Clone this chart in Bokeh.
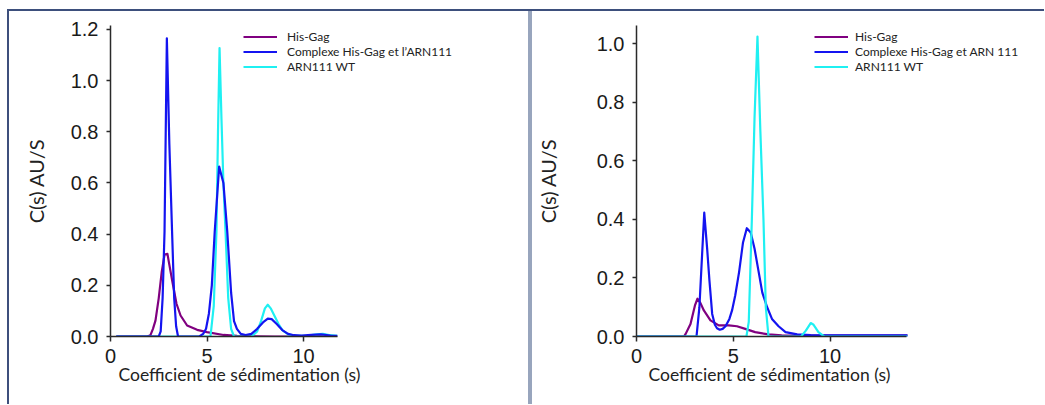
from bokeh.plotting import figure
from bokeh.layouts import row, column
from bokeh.models import Div, Legend, LegendItem, FixedTicker, Title
from bokeh.embed import file_html
from bokeh.resources import INLINE

# ---------------- data ----------------
series_names_left = ["His-Gag", "Complexe His-Gag et l\u2019ARN111", "ARN111 WT"]
series_names_right = ["His-Gag", "Complexe His-Gag et ARN 111", "ARN111 WT"]
colors = ["#800080", "#1414f0", "#1ff0f2"]

x_label = "Coefficient de s\u00e9dimentation (s)"
y_label = "C(s) AU/S"

x_ticks = [0, 5, 10]
y_ticks_left = [0.0, 0.2, 0.4, 0.6, 0.8, 1.0, 1.2]
y_ticks_right = [0.0, 0.2, 0.4, 0.6, 0.8, 1.0]
y_tick_labels_left = ["0.0", "0.2", "0.4", "0.6", "0.8", "1.0", "1.2"]
y_tick_labels_right = ["0.0", "0.2", "0.4", "0.6", "0.8", "1.0"]

# axis extents (data units)
x_axis_end_left = 11.76
x_axis_end_right = 13.95

# Left panel
hisgag_L_s = [0.3, 1.9, 2.07, 2.2, 2.33, 2.5, 2.65, 2.8, 2.95, 3.05, 3.2, 3.42, 3.63, 3.97, 4.49, 5.0, 5.86, 6.56, 7.5, 8.5, 11.75]
hisgag_L_c = [0.0, 0.0, 0.005, 0.03, 0.062, 0.15, 0.25, 0.32, 0.323, 0.28, 0.217, 0.128, 0.082, 0.043, 0.026, 0.017, 0.006, 0.003, 0.001, 0.0, 0.0]

complexe_L_s = [0.3, 2.5, 2.6, 2.7, 2.8, 2.92, 3.05, 3.19, 3.3, 3.4, 3.5, 4.6, 4.8, 4.95, 5.1, 5.25, 5.4, 5.63, 5.85, 6.05, 6.25, 6.4, 6.55, 6.75, 7.0, 7.3, 7.6, 7.9, 8.15, 8.35, 8.6, 8.9, 9.2, 9.5, 9.9, 10.4, 10.9, 11.4, 11.75]
complexe_L_c = [0.0, 0.0, 0.02, 0.15, 0.41, 1.165, 0.75, 0.41, 0.15, 0.04, 0.0, 0.0, 0.01, 0.03, 0.09, 0.2, 0.41, 0.664, 0.6, 0.41, 0.17, 0.06, 0.03, 0.01, 0.006, 0.01, 0.03, 0.055, 0.07, 0.068, 0.05, 0.025, 0.01, 0.005, 0.004, 0.006, 0.008, 0.004, 0.003]

arn_L_s = [0.3, 5.0, 5.18, 5.35, 5.49, 5.57, 5.65, 5.75, 5.85, 5.96, 6.1, 6.25, 6.4, 7.3, 7.6, 7.8, 8.0, 8.15, 8.3, 8.5, 8.7, 8.9, 9.2, 9.6, 10.2, 10.7, 11.0, 11.4, 11.75]
arn_L_c = [0.0, 0.0, 0.0, 0.12, 0.41, 0.8, 1.127, 0.85, 0.6, 0.41, 0.15, 0.03, 0.0, 0.0, 0.02, 0.06, 0.11, 0.124, 0.11, 0.08, 0.05, 0.025, 0.008, 0.003, 0.004, 0.008, 0.01, 0.005, 0.003]

# Right panel
hisgag_R_s = [0.0, 2.45, 2.54, 2.79, 3.02, 3.15, 3.3, 3.48, 3.82, 4.25, 4.77, 5.19, 5.62, 6.13, 6.82, 7.5, 14.0]
hisgag_R_c = [0.0, 0.0, 0.009, 0.043, 0.106, 0.129, 0.115, 0.089, 0.055, 0.038, 0.038, 0.035, 0.026, 0.015, 0.007, 0.004, 0.003]

complexe_R_s = [0.0, 3.1, 3.25, 3.5, 3.65, 3.77, 3.91, 4.05, 4.16, 4.3, 4.45, 4.6, 4.8, 4.94, 5.1, 5.3, 5.5, 5.7, 5.9, 6.1, 6.3, 6.5, 6.75, 7.0, 7.34, 7.7, 8.3, 9.0, 14.0]
complexe_R_c = [0.0, 0.0, 0.1, 0.423, 0.3, 0.19, 0.077, 0.04, 0.028, 0.023, 0.026, 0.035, 0.06, 0.09, 0.14, 0.22, 0.32, 0.37, 0.355, 0.3, 0.225, 0.15, 0.1, 0.06, 0.035, 0.015, 0.007, 0.005, 0.004]

arn_R_s = [0.0, 5.68, 5.8, 5.96, 6.1, 6.25, 6.4, 6.56, 6.68, 6.82, 8.5, 8.75, 9.0, 9.15, 9.4, 9.7, 14.0]
arn_R_c = [0.0, 0.0, 0.05, 0.4, 0.75, 1.025, 0.7, 0.4, 0.1, 0.0, 0.0, 0.02, 0.046, 0.04, 0.015, 0.0, 0.0]

# ---------------- styling ----------------
TICK_FONT = "Liberation Sans"
TEXT_FONT = "Lato"
NAVY = "#3d4f7c"
SEP = "#98a5bd"
H = 393


def make_panel(width, x_end, axis_end, y_end, y_ticks, y_tick_labels, min_left,
               ylabel_standoff, xlabel_offset, names, data, order, legend_x, label_standoff):
    p = figure(width=width, height=H, output_backend="svg", toolbar_location=None,
               x_range=(0, x_end), y_range=(0, y_end),
               min_border_left=min_left, min_border_right=0,
               min_border_top=14, min_border_bottom=68)
    p.outline_line_color = None
    p.grid.visible = False
    p.background_fill_color = "white"
    p.border_fill_color = "white"

    for ax in (p.xaxis[0], p.yaxis[0]):
        ax.axis_line_color = "#2a2a2a"
        ax.axis_line_width = 1.5
        ax.major_tick_line_color = "#2a2a2a"
        ax.major_tick_line_width = 1.5
        ax.minor_tick_line_color = None
        ax.major_tick_in = 0
        ax.major_label_text_font = TICK_FONT
        ax.major_label_text_font_size = "20px"
        ax.major_label_text_color = "#1a1a1a"
        ax.axis_label_text_font = TEXT_FONT
        ax.axis_label_text_font_style = "normal"
        ax.axis_label_text_color = "#222222"

    xa = p.xaxis[0]
    xa.ticker = FixedTicker(ticks=x_ticks)
    xa.bounds = (0, axis_end)
    xa.major_tick_out = 5
    xa.major_label_standoff = 7

    ya = p.yaxis[0]
    ya.ticker = FixedTicker(ticks=y_ticks)
    ya.major_label_overrides = {t: l for t, l in zip(y_ticks, y_tick_labels)}
    ya.major_tick_out = 4
    ya.major_label_standoff = 8
    ya.axis_label = y_label
    ya.axis_label_standoff = ylabel_standoff
    ya.axis_label_text_font_size = "20px"

    xt = Title(text=x_label, align="left", offset=xlabel_offset, standoff=-7,
               text_font=TEXT_FONT, text_font_size="17.5px", text_font_style="normal",
               text_color="#222222")
    p.add_layout(xt, "below")

    renderers = {}
    for i in order:
        s, c = data[i]
        renderers[i] = p.line(s, c, line_color=colors[i], line_width=2.2, line_join="round")

    items = [LegendItem(label=names[i], renderers=[renderers[i]]) for i in range(3)]
    leg = Legend(items=items, location=(legend_x, 262),
                 glyph_width=34, glyph_height=15, label_height=15,
                 label_standoff=label_standoff, spacing=0, padding=0, margin=0,
                 border_line_color=None, background_fill_alpha=0,
                 label_text_font=TEXT_FONT, label_text_font_size="12px",
                 label_text_color="#222222")
    p.add_layout(leg, "center")
    return p


# left frame: 418 px wide at 19.3 px/unit; right frame: 410 px wide at 19.45 px/unit
pL = make_panel(519, 418 / 19.3, x_axis_end_left, 1.215, y_ticks_left, y_tick_labels_left,
                101, 20, 8, series_names_left,
                [(hisgag_L_s, hisgag_L_c), (complexe_L_s, complexe_L_c), (arn_L_s, arn_L_c)],
                [0, 2, 1], 133, 10)
pR = make_panel(512, 410 / 19.45, x_axis_end_right, 1.0625, y_ticks_right, y_tick_labels_right,
                102, 34, 12, series_names_right,
                [(hisgag_R_s, hisgag_R_c), (complexe_R_s, complexe_R_c), (arn_R_s, arn_R_c)],
                [0, 1, 2], 178, 7)

top_space = Div(text="", width=1044, height=9, margin=0)
left_space1 = Div(text="", width=7, height=2, margin=0)
top_line = Div(text="", width=1037, height=2, margin=0, styles={"background-color": NAVY})
left_space2 = Div(text="", width=7, height=H, margin=0)
left_line = Div(text="", width=2, height=H, margin=0, styles={"background-color": NAVY})
separator = Div(text="", width=4, height=H, margin=0, styles={"background-color": SEP})

layout = column(
    top_space,
    row(left_space1, top_line, spacing=0),
    row(left_space2, left_line, pL, separator, pR, spacing=0),
    spacing=0,
)

open("out.html", "w").write(file_html(layout, INLINE))
